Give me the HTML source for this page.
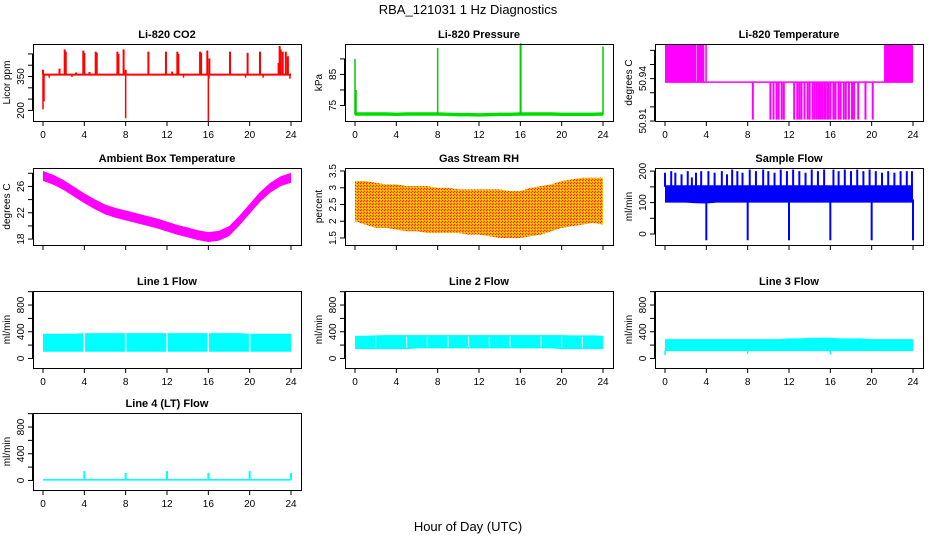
<!DOCTYPE html>
<html><head><meta charset="utf-8">
<style>
html,body{margin:0;padding:0;background:#fff;}
svg{display:block;font-family:"Liberation Sans",sans-serif;}
</style></head>
<body>
<svg id="chart" width="936" height="540" viewBox="0 0 936 540">
<defs>
<pattern id="rhpat" width="3" height="3" patternUnits="userSpaceOnUse">
<rect width="3" height="3" fill="#f5a800"/><rect width="1" height="1" fill="#ff2000"/><rect x="2" y="1" width="1" height="1" fill="#ffe000"/><rect x="1" y="2" width="1" height="1" fill="#ff3000"/>
</pattern>
</defs>
<text x="468" y="14" text-anchor="middle" font-size="13">RBA_121031  1 Hz Diagnostics</text>
<text x="468" y="531" text-anchor="middle" font-size="13">Hour of Day (UTC)</text>
</svg>
<script>
// ---------- data ----------
const xTicks = [0,4,8,12,16,20,24];
const hours = [0,1,2,3,4,5,6,7,8,9,10,11,12,13,14,15,16,17,18,19,20,21,22,23,24];

const co2Base = [358,358,358,358,358,358,358,358,358,358,358,358,358,358,358,358,358,358,358,358,358,358,358,358,358];
const co2Up = [[0,380],[1.6,385],[2.1,470],[2.2,460],[3.2,368],[3.9,465],[4.0,455],[4.5,370],[5.1,460],[5.2,455],[7.2,460],[7.3,450],[7.8,470],[8.0,380],[10.2,460],[11.9,460],[12.5,372],[13.0,460],[13.1,450],[15.2,460],[15.3,455],[15.9,465],[16.1,430],[18.1,460],[19.8,455],[21.0,460],[22.8,410],[22.9,485],[23.0,470],[23.2,460],[23.5,460],[23.7,440]];
const co2Down = [[0,205],[0.1,240],[0.6,345],[2.8,348],[8,165],[13.6,345],[16,150],[16.05,340],[19.6,345],[21.3,345],[23.9,340]];
const co2Ticks = [200,250,300,350,400,450];
const co2Labels = [200,350];

const presBase = [72.3,72.3,72.3,72.3,72.2,72.3,72.3,72.3,72.3,72.2,72.1,72.1,72.0,72.1,72.2,72.2,72.3,72.3,72.3,72.3,72.2,72.2,72.2,72.2,72.3];
const presSpikes = [[0,90],[0.1,80],[8,93.5],[16,95],[16.05,95],[24,94]];
const presTicks = [75,80,85,90];
const presLabels = [75,85];

const ltHigh = [[0,3],[3.05,3.8],[3.9,4.05],[21.2,24]];
const ltMid = 50.9375, ltTop = 50.964, ltLow = 50.911;
const ltLowBars = [8.5,10.2,10.5,10.8,11.0,11.3,11.5,12.5,12.8,13.0,13.2,13.5,13.8,14.0,14.3,14.5,14.7,14.9,15.0,15.2,15.4,15.5,15.7,15.8,16.0,16.3,16.5,16.8,17.0,17.3,17.5,17.8,18.1,18.3,18.7,19.4,20.1];
const ltTicks = [50.91,50.92,50.93,50.94,50.95,50.96];
const ltLabels = ["50.91","50.94"];

const ambCenter = [27.6,27.0,26.2,25.2,24.2,23.3,22.5,22.0,21.6,21.2,20.8,20.4,19.9,19.4,19.0,18.6,18.3,18.5,19.2,20.8,22.6,24.4,25.8,26.8,27.3];
const ambTicks = [18,20,22,24,26,28];
const ambLabels = [18,22,26];

const rhUpper = [3.2,3.2,3.15,3.1,3.1,3.05,3.05,3.05,3.0,3.0,2.95,2.95,2.95,2.95,2.95,2.9,2.9,3.0,3.05,3.1,3.2,3.25,3.3,3.3,3.3];
const rhLower = [2.0,1.9,1.8,1.8,1.75,1.7,1.7,1.65,1.65,1.65,1.65,1.6,1.6,1.55,1.5,1.5,1.5,1.55,1.6,1.7,1.8,1.85,1.9,1.95,1.9];
const rhTicks = [1.5,2,2.5,3,3.5];

const sfUpper = [155,155,155,155,155,155,155,155,155,155,155,155,155,155,155,155,155,155,155,155,155,155,155,155,155];
const sfLower = [100,100,100,98,97,100,100,100,100,100,100,100,100,100,100,100,100,100,100,100,100,100,100,100,100];
const sfSpikes = [[0,195],[0.6,200],[1.0,195],[1.6,190],[2.2,200],[2.6,180],[3.0,195],[3.5,200],[4.2,200],[4.8,195],[5.5,200],[6.0,190],[6.5,205],[7.0,200],[7.5,195],[8.2,205],[8.8,200],[9.5,205],[10.0,200],[10.6,195],[11.2,205],[11.8,200],[12.4,205],[13.0,200],[13.6,195],[14.2,205],[14.8,200],[15.4,205],[16.3,205],[16.8,200],[17.4,205],[18.0,200],[18.6,205],[19.2,200],[19.8,205],[20.4,200],[21.0,195],[21.6,200],[22.2,195],[22.8,200],[23.4,200],[23.9,200]];
const sfDips = [4,8,12,16,20,24];
const sfDipValue = -20;
const sfTicks = [0,50,100,150,200];
const sfLabels = [0,100,200];

const flowTicks = [0,200,400,600,800,1000];
const flowLabels = [0,400,800];
const line1Upper = [370,370,370,370,380,380,380,380,380,380,380,380,380,380,380,380,380,380,380,380,370,370,370,370,370];
const line1Lower = [100,100,100,100,100,100,100,100,100,100,100,100,100,100,100,100,100,100,100,100,100,100,100,100,100];
const line1Gaps = [4,8,12,16,20];
const line2Upper = [340,340,345,350,350,350,350,350,350,350,350,350,350,350,350,350,350,350,350,350,350,345,345,345,340];
const line2Lower = [140,140,140,140,140,140,150,150,150,150,150,150,150,150,150,150,150,150,150,150,140,140,140,140,140];
const line2Gaps = [2,5,7,9,11,13,15,18,20,22];
const line3Upper = [290,290,290,290,290,290,290,290,290,290,290,290,300,300,310,310,310,300,300,300,290,290,290,290,290];
const line3Lower = [110,110,110,110,110,110,110,110,110,110,110,110,110,110,110,110,110,110,110,110,110,110,110,110,110];
const line3Dips = [[0,50],[8,70],[16,60]];
const line4Base = [10,10,10,10,10,10,10,10,10,10,10,10,10,10,10,10,10,10,10,10,10,10,10,10,10];
const line4Spikes = [[4,140],[8,110],[12,140],[16,110],[20,140],[24,110]];

// ---------- layout ----------
const svg = document.getElementById('chart');
const NS = 'http://www.w3.org/2000/svg';
const colL = [33,345,655], rowT = [44,168,291,413], BW = 268, BH = 77;
function mk(tag, attrs, parent){ const e=document.createElementNS(NS,tag); for(const k in attrs) e.setAttribute(k,attrs[k]); (parent||svg).appendChild(e); return e; }

function panel(name, col, row, title, ytitle, ymin, ymax, yt, yl){
  const g = mk('g',{});
  
  
  const L=colL[col], T=rowT[row];
  const sx = h => L+10 + h/24*(BW-20);
  const sy = v => T+BH - (v-ymin)/(ymax-ymin)*BH;
  const p = {g,sx,sy,L,T};
  const t = mk('text',{x:L+BW/2,y:T-6,'text-anchor':'middle','font-size':'11','font-weight':'bold'},g);
  t.textContent = title;
  
  
  const yt2 = mk('text',{x:0,y:0,'text-anchor':'middle','font-size':'10',transform:`translate(${L-23},${T+BH/2}) rotate(-90)`},g);
  yt2.textContent = ytitle;
  
  
  const ya = mk('g',{stroke:'#000','stroke-width':'1'},g);
  
  
  mk('line',{x1:L-0.5,y1:sy(yt[0]),x2:L-0.5,y2:sy(yt[yt.length-1])},ya);
  yt.forEach(v=>mk('line',{x1:L-5,x2:L,y1:sy(v),y2:sy(v)},ya));
  yl.forEach(v=>{
    const tx = mk('text',{x:0,y:0,'text-anchor':'middle','font-size':'10',stroke:'none',transform:`translate(${L-9},${sy(+v)}) rotate(-90)`},g);
    tx.textContent = v;
    
    
  });
  const xa = mk('g',{stroke:'#000','stroke-width':'1'},g);
  
  
  xTicks.forEach(h=>mk('line',{x1:sx(h),x2:sx(h),y1:T+BH,y2:T+BH+5},xa));
  if(row!==1){
    xTicks.forEach(h=>{
      const tx = mk('text',{x:sx(h),y:T+BH+17,'text-anchor':'middle','font-size':'10'},g);
      tx.textContent = h;
      
      
    });
  }
  p.finish = ()=>{
    const b = mk('rect',{x:L+0.5,y:T+0.5,width:BW,height:BH,fill:'none',stroke:'#000','stroke-width':'1'},g);
    
    
  };
  return p;
}
function band(p, up, lo, color, fill, nm){
  let pts = hours.map((h,i)=>p.sx(h)+','+p.sy(up[i]));
  pts = pts.concat(hours.slice().reverse().map((h,j)=>{const i=hours.length-1-j; return p.sx(h)+','+p.sy(lo[i]);}));
  const e = mk('polygon',{points:pts.join(' '),fill:fill||color,stroke:'none'},p.g);
  
  
  return e;
}
function vline(p, h, v1, v2, color, w, nm){
  const e = mk('line',{x1:p.sx(h),x2:p.sx(h),y1:p.sy(v1),y2:p.sy(v2),stroke:color,'stroke-width':w||1},p.g);
  
  
  return e;
}
function gap(p, h, color, nm){
  const e = mk('line',{x1:p.sx(h),x2:p.sx(h),y1:p.T+1,y2:p.T+BH-1,stroke:color,'stroke-width':1.5},p.g);
  
  
}

// CO2
let p = panel('co2',0,0,'Li-820 CO2','Licor ppm',153,494,co2Ticks,co2Labels);
band(p, co2Base.map(v=>v+5), co2Base.map(v=>v-4), '#f00', null, 'co2-series');
co2Up.forEach(d=>vline(p,d[0],358,d[1],'#f00',2,'co2-spike'));
co2Down.forEach(d=>vline(p,d[0],358,d[1],'#f00',1.5,'co2-dip'));
p.finish();

// Pressure
p = panel('pressure',1,0,'Li-820 Pressure','kPa',70,94.8,presTicks,presLabels);
band(p, presBase.map(v=>v+0.5), presBase.map(v=>v-0.6), '#00dd00', null, 'pressure-series');
presSpikes.forEach(d=>vline(p,d[0],72,d[1],'#00cc00',1.5,'pressure-spike'));
p.finish();

// Li-820 temperature
p = panel('li820-temp',2,0,'Li-820 Temperature','degrees C',50.91,50.9645,ltTicks,ltLabels);
{ const e=mk('line',{x1:p.sx(0),x2:p.sx(24),y1:p.sy(ltMid),y2:p.sy(ltMid),stroke:'#f0f','stroke-width':1.5},p.g);
    }
ltHigh.forEach(d=>{
  const e=mk('rect',{x:p.sx(d[0]),y:p.sy(ltTop),width:p.sx(d[1])-p.sx(d[0]),height:p.sy(ltMid)-p.sy(ltTop),fill:'#f0f'},p.g);
   
});
ltLowBars.forEach(h=>vline(p,h,ltMid,ltLow,'#f0f',2,'li820-temp-low-bar'));
p.finish();

// Ambient
p = panel('ambient',0,1,'Ambient Box Temperature','degrees C',17.1,28.8,ambTicks,ambLabels);
band(p, ambCenter.map(v=>v+0.75), ambCenter.map(v=>v-0.75), '#f0f', null, 'ambient-series');
p.finish();

// RH
p = panel('rh',1,1,'Gas Stream RH','percent',1.29,3.59,rhTicks,rhTicks);
band(p, rhUpper, rhLower, '#f90', 'url(#rhpat)', 'rh-series');
p.finish();

// Sample flow
p = panel('sample-flow',2,1,'Sample Flow','ml/min',-35,210,sfTicks,sfLabels);
band(p, sfUpper, sfLower, '#00f', null, 'sample-flow-series');
sfSpikes.forEach(d=>vline(p,d[0],150,d[1],'#00f',2,'sample-flow-spike'));
sfDips.forEach(h=>vline(p,h,110,sfDipValue,'#00f',2,'sample-flow-dip'));
p.finish();

// Line flows
p = panel('line1-flow',0,2,'Line 1 Flow','ml/min',-143,1010,flowTicks,flowLabels);
band(p, line1Upper, line1Lower, '#0ff', null, 'line1-flow-series');
line1Gaps.forEach(h=>gap(p,h,'#fff','line1-flow-gap'));
p.finish();

p = panel('line2-flow',1,2,'Line 2 Flow','ml/min',-143,1010,flowTicks,flowLabels);
band(p, line2Upper, line2Lower, '#0ff', null, 'line2-flow-series');
line2Gaps.forEach(h=>vline(p,h,line2Lower[h]+20,line2Upper[h]-20,'#fff',1,'line2-flow-gap'));
p.finish();

p = panel('line3-flow',2,2,'Line 3 Flow','ml/min',-143,1010,flowTicks,flowLabels);
band(p, line3Upper, line3Lower, '#0ff', null, 'line3-flow-series');
line3Dips.forEach(d=>vline(p,d[0],120,d[1],'#0ff',1.5,'line3-flow-dip'));
p.finish();

p = panel('line4-flow',0,3,'Line 4 (LT) Flow','ml/min',-143,1010,flowTicks,flowLabels);
band(p, line4Base.map(v=>v+12), line4Base.map(v=>v-12), '#0ff', null, 'line4-flow-series');
line4Spikes.forEach(d=>vline(p,d[0],10,d[1],'#0ff',2,'line4-flow-spike'));
p.finish();
</script>
</body></html>
